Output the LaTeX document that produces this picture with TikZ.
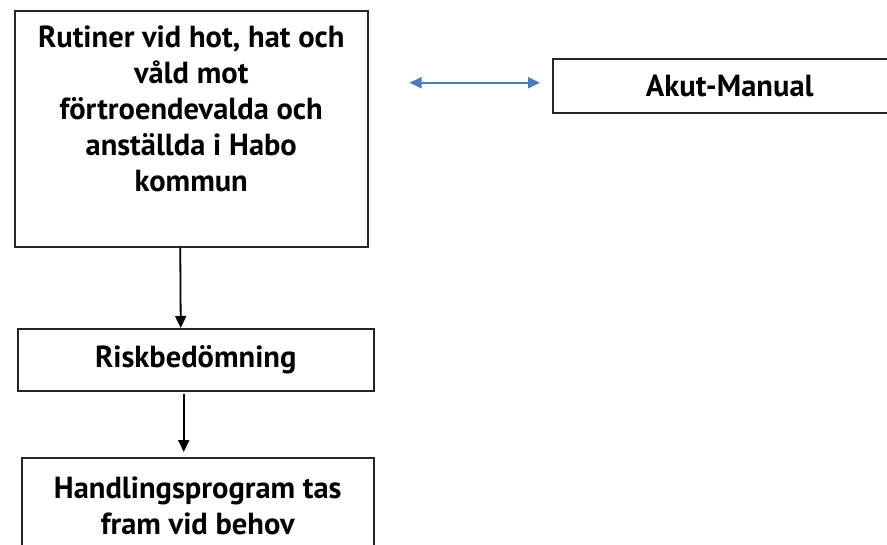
\documentclass[tikz,border=0pt]{standalone}
\usepackage{fontspec}
\setmainfont{PT Sans}
\usetikzlibrary{arrows.meta}
\definecolor{linkblue}{HTML}{4A7EBB}

\begin{document}
\begin{tikzpicture}[
    x=1pt, y=-1pt,
    font=\bfseries\fontsize{30.5}{36}\selectfont,
    >={Triangle[length=12pt,width=11pt]},
    stepbox/.style={draw=black!85, line width=1.5pt, inner sep=0pt,
                    align=center, anchor=north west}]

  \useasboundingbox (0,0) rectangle (887,544);

  % boxes
  \node[stepbox, minimum width=353pt, minimum height=236pt, text depth=40pt]
       (rutiner) at (14,10)
       {Rutiner vid hot, hat och\\ våld mot\\ förtroendevalda och\\
        anställda i Habo\\ kommun};
  \node[stepbox, minimum width=354pt, minimum height=54pt]
       (akut) at (552,58) {Akut-Manual};
  \node[stepbox, minimum width=356pt, minimum height=62pt]
       (risk) at (17,328) {Riskbedömning};
  \node[stepbox, minimum width=352pt, minimum height=97pt]
       (handling) at (21,457) {Handlingsprogram tas\\ fram vid behov};

  % flow
  \draw[->, line width=1.8pt] ([xshift=-11pt]rutiner.south)
       -- ([xshift=-15pt]risk.north);
  \draw[->, line width=1.8pt, shorten <=2pt, shorten >=5pt]
       ([xshift=-12pt]risk.south) -- ([xshift=-14pt]handling.north);

  % link to the manual
  \draw[<->, linkblue, line width=1.8pt, shorten <=41pt, shorten >=12pt]
       ([yshift=3pt]rutiner.east |- akut.west) -- ([yshift=3pt]akut.west);
\end{tikzpicture}
\end{document}
